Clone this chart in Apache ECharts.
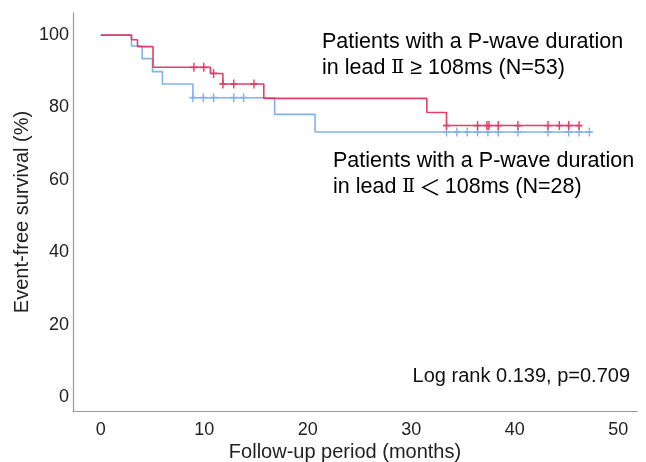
<!DOCTYPE html>
<html>
<head>
<meta charset="utf-8">
<script src="https://cdn.jsdelivr.net/npm/echarts@6/dist/echarts.min.js"></script>
<style>
  html, body { margin: 0; padding: 0; background: #fff; }
  #main { width: 646px; height: 462px; }
</style>
</head>
<body>
<div id="main"></div>
<script>
// Kaplan-Meier steps: [time (months), survival %]
var longSteps = [[0, 100], [2.97, 98.7], [3.55, 96.8], [5.05, 91.1], [10.6, 89.4], [11.8, 86.5], [15.75, 82.5], [31.5, 78.6], [33.4, 75.0], [46.4, 75.0]];
var shortSteps = [[0, 100], [2.97, 97.0], [4.0, 93.5], [5.0, 89.9], [5.96, 86.5], [8.9, 82.7], [16.8, 78.1], [20.7, 73.2], [47.2, 73.2]];

// censored observations
var longCensor = [[9.0, 91.1], [9.95, 91.1], [10.9, 89.4], [11.8, 86.5], [12.85, 86.5], [14.8, 86.5],
  [33.4, 75.0], [36.4, 75.0], [37.3, 75.0], [37.5, 75.0], [38.4, 75.0], [40.3, 75.0], [43.2, 75.0], [44.3, 75.0], [45.2, 75.0], [46.2, 75.0]];
var shortCensor = [[8.9, 82.7], [9.9, 82.7], [10.9, 82.7], [12.85, 82.7], [13.8, 82.7],
  [33.4, 73.2], [34.4, 73.2], [35.4, 73.2], [36.4, 73.2], [37.4, 73.2], [38.4, 73.2], [40.3, 73.2], [43.2, 73.2], [45.2, 73.2], [46.2, 73.2], [47.2, 73.2]];

var xTicks = [0, 10, 20, 30, 40, 50];
var yTicks = [0, 20, 40, 60, 80, 100];

var redColor = '#e23e68';
var blueColor = '#82b2ea';
var fontFam = 'Arial, "Liberation Sans", sans-serif';
var serifFam = '"DejaVu Serif", "Liberation Serif", serif';
var cjkFam = '"Noto Sans CJK SC", sans-serif';
var plus = 'path://M4,0H6V4H10V6H6V10H4V6H0V4H4Z';

// text styles for the notes; s = small gap, g = wider gap
var noteRich = {
  t: { fontSize: 21.5, fontFamily: fontFam, color: '#111', lineHeight: 26 },
  r: { fontSize: 19, fontFamily: serifFam, color: '#111', lineHeight: 26 },
  c: { fontSize: 21.5, fontFamily: cjkFam, color: '#111', lineHeight: 26 },
  s: { fontSize: 21.5, lineHeight: 26, width: 4 },
  g: { fontSize: 21.5, lineHeight: 26, width: 6 }
};

var myChart = echarts.init(document.getElementById('main'));

var option = {
  animation: false,
  backgroundColor: '#fff',
  grid: { left: 73, right: 9, top: 13, bottom: 51, outerBoundsMode: 'none', containLabel: false },
  xAxis: {
    type: 'value',
    min: -2.68, max: 51.8,
    name: 'Follow-up period (months)',
    nameLocation: 'middle',
    nameGap: 31,
    nameMoveOverlap: false,
    nameTextStyle: { fontSize: 20, color: '#222', fontFamily: fontFam, padding: [0, 20, 0, 0] },
    axisLine: { show: true, onZero: false, lineStyle: { color: '#999', width: 1.2 } },
    axisTick: { show: false },
    splitLine: { show: false },
    axisLabel: { customValues: xTicks, fontSize: 18, color: '#222', fontFamily: fontFam, margin: 10 }
  },
  yAxis: {
    type: 'value',
    min: -3.87, max: 106.1,
    name: 'Event-free survival (%)',
    nameLocation: 'middle',
    nameGap: 41,
    nameMoveOverlap: false,
    nameTextStyle: { fontSize: 20, color: '#222', fontFamily: fontFam },
    axisLine: { show: true, onZero: false, lineStyle: { color: '#999', width: 1.2 } },
    axisTick: { show: false },
    splitLine: { show: false },
    axisLabel: { customValues: yTicks, fontSize: 18, color: '#222', fontFamily: fontFam, margin: 4 }
  },
  graphic: [
    { type: 'text', left: 322, top: 31, style: {
      text: '{t|Patients with a P-wave duration}\n{t|in lead}{g| }{r|Ⅱ}{g| }{t|≥ 108ms (N=53)}', rich: noteRich } },
    { type: 'text', left: 333, top: 150, style: {
      text: '{t|Patients with a P-wave duration}\n{t|in lead}{g| }{r|Ⅱ}{s| }{c|＜}{s| }{t|108ms (N=28)}', rich: noteRich } },
    { type: 'text', right: 16, top: 366, style: { text: 'Log rank 0.139, p=0.709', font: '20px ' + fontFam, fill: '#111' } }
  ],
  series: [
    {
      name: 'short', type: 'line', step: 'end', showSymbol: false,
      lineStyle: { color: blueColor, width: 1.6 }, data: shortSteps, z: 2
    },
    {
      name: 'long', type: 'line', step: 'end', showSymbol: false,
      lineStyle: { color: redColor, width: 1.6 }, data: longSteps, z: 3
    },
    {
      name: 'shortCensor', type: 'scatter', symbol: plus, symbolSize: [7, 9],
      itemStyle: { color: blueColor, opacity: 1 }, data: shortCensor, z: 2
    },
    {
      name: 'longCensor', type: 'scatter', symbol: plus, symbolSize: [7, 9],
      itemStyle: { color: redColor, opacity: 1 }, data: longCensor, z: 4
    }
  ]
};

myChart.setOption(option);
</script>
</body>
</html>
